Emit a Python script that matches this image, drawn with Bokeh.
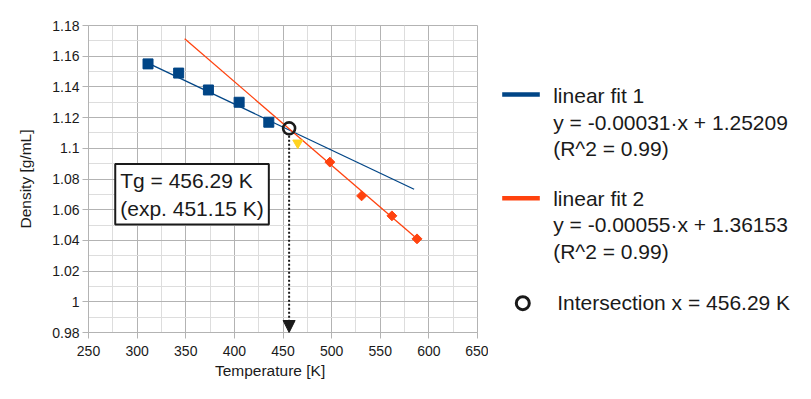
import numpy as np
from bokeh.plotting import figure
from bokeh.layouts import row
from bokeh.models import (Range1d, FixedTicker, CustomJSTickFormatter, Label, Arrow,
                          NormalHead)
from bokeh.core.properties import value
from bokeh.embed import file_html
from bokeh.resources import INLINE

# ---- data ----
fit1_x = [311.2, 342.7, 373.3, 404.9, 435.4]
fit1_y = [1.155, 1.149, 1.138, 1.130, 1.117]
excl_x = [465.2]
excl_y = [1.1035]
fit2_x = [498.2, 530.8, 562.0, 587.8]
fit2_y = [1.091, 1.069, 1.056, 1.041]
line1_x = [311.2, 584.8]
line1_y = [1.1555, 1.0733]
line2_x = [348.9, 587.8]
line2_y = [1.1713, 1.041]
inter_x = 456.29
inter_y = 1.113
x_ticks = [250, 300, 350, 400, 450, 500, 550, 600, 650]
y_ticks = [0.98, 1.0, 1.02, 1.04, 1.06, 1.08, 1.1, 1.12, 1.14, 1.16, 1.18]
x_minor = [275, 325, 375, 425, 475, 525, 575, 625]
y_minor = [0.99, 1.01, 1.03, 1.05, 1.07, 1.09, 1.11, 1.13, 1.15, 1.17]
legend_lines1 = ["linear fit 1", "y = -0.00031\u00b7x + 1.25209", "(R^2 = 0.99)"]
legend_lines2 = ["linear fit 2", "y = -0.00055\u00b7x + 1.36153", "(R^2 = 0.99)"]
inter_label = "Intersection x = 456.29 K"
box_text = "Tg = 456.29 K\n(exp. 451.15 K)"
x_title = "Temperature [K]"
y_title = "Density [g/mL]"

BLUE = "#004586"
ORANGE = "#ff420e"
YELLOW = "#ffd320"
DARK = "#1a1a1a"
GRID = "#b3b3b3"
MINOR = "#dddddd"
FONT = "Liberation Sans"

p = figure(width=488, height=391, output_backend="svg", toolbar_location=None,
           x_range=Range1d(250, 650), y_range=Range1d(0.98, 1.18),
           min_border_left=88, min_border_top=25, min_border_right=11, min_border_bottom=59)
p.outline_line_color = GRID
p.background_fill_color = "white"

p.xaxis.ticker = FixedTicker(ticks=x_ticks, minor_ticks=x_minor)
p.yaxis.ticker = FixedTicker(ticks=y_ticks, minor_ticks=y_minor)
p.yaxis.formatter = CustomJSTickFormatter(code="return String(Number(tick.toFixed(2)));")

for ax in (p.xaxis, p.yaxis):
    ax.axis_line_color = GRID
    ax.major_tick_line_color = GRID
    ax.major_tick_in = 0
    ax.major_tick_out = 6
    ax.minor_tick_line_color = None
    ax.major_label_text_font = FONT
    ax.major_label_text_font_size = "14px"
    ax.major_label_text_color = DARK
    ax.axis_label_text_font = FONT
    ax.axis_label_text_font_size = "15.5px"
    ax.axis_label_text_font_style = "normal"
    ax.axis_label_text_color = DARK
p.yaxis.major_label_standoff = 3
p.xaxis.major_label_standoff = 7
p.yaxis.axis_label = y_title
p.yaxis.axis_label_standoff = 15
# trailing no-break spaces shift the centred title slightly left, as in the reference
p.xaxis.axis_label = x_title + "\u00a0" * 6
p.xaxis.axis_label_standoff = 3

p.xgrid.ticker = FixedTicker(ticks=x_ticks, minor_ticks=x_minor)
p.ygrid.ticker = FixedTicker(ticks=y_ticks, minor_ticks=y_minor)
for g in (p.xgrid, p.ygrid):
    g.grid_line_color = GRID
    g.minor_grid_line_color = MINOR
    g.level = "underlay"

# fit lines
p.line(line1_x, line1_y, line_color=BLUE, line_width=1.3)
p.line(line2_x, line2_y, line_color=ORANGE, line_width=1.3)

# data points
p.scatter(fit1_x, fit1_y, marker="square", size=10, fill_color=BLUE, line_color=BLUE)
p.scatter(excl_x, excl_y, marker="inverted_triangle", size=10, fill_color=YELLOW, line_color=YELLOW)
p.scatter(fit2_x, fit2_y, marker="square", angle=np.pi / 4, size=7, fill_color=ORANGE, line_color=ORANGE)

# dotted arrow from intersection down to the axis
p.add_layout(Arrow(x_start=inter_x, y_start=inter_y - 0.0048, x_end=inter_x, y_end=0.98,
                   line_color=DARK, line_width=2, line_dash="2 2",
                   end=NormalHead(size=12, fill_color=DARK, line_color=DARK, line_width=1)))

# intersection circle
p.scatter([inter_x], [inter_y], marker="circle", size=12, fill_color=None,
          line_color=DARK, line_width=2.6)

# text box
p.add_layout(Label(x=277.5, y=1.0898, text=box_text, text_font=FONT, text_font_size="21px",
                   text_color=DARK, text_align="left", text_baseline="top", text_line_height=1.2,
                   border_line_color=DARK, border_line_width=2, background_fill_color="white",
                   padding=5))

# ---- legend panel (its frame is aligned with the main frame; coordinates = page pixels) ----
q = figure(width=315, height=391, output_backend="svg", toolbar_location=None,
           x_range=Range1d(488, 803), y_range=Range1d(332, 25),
           x_axis_location=None, y_axis_location=None,
           min_border=0, min_border_left=0, min_border_right=0, min_border_top=25,
           min_border_bottom=59)
q.outline_line_color = None
q.grid.visible = False

q.line([501.7, 539.3], [94, 94], line_color=BLUE, line_width=4.5)
q.line([501.7, 539.3], [197.7, 197.7], line_color=ORANGE, line_width=4.5)
q.text(x=[552.7] * 3, y=[94.8, 121.5, 148.1], text=legend_lines1, text_font=value(FONT),
       text_font_size="21px", text_color=DARK, text_baseline="alphabetic")
q.text(x=[552.7] * 3, y=[197.5, 224.2, 250.8], text=legend_lines2, text_font=value(FONT),
       text_font_size="21px", text_color=DARK, text_baseline="alphabetic")
q.scatter([522.3], [302.7], marker="circle", size=13, fill_color=None, line_color=DARK, line_width=3)
q.text(x=[556.7], y=[301.8], text=[inter_label], text_font=value(FONT),
       text_font_size="21px", text_color=DARK, text_baseline="alphabetic")

layout = row(p, q)
open("out.html", "w").write(file_html(layout, INLINE))
